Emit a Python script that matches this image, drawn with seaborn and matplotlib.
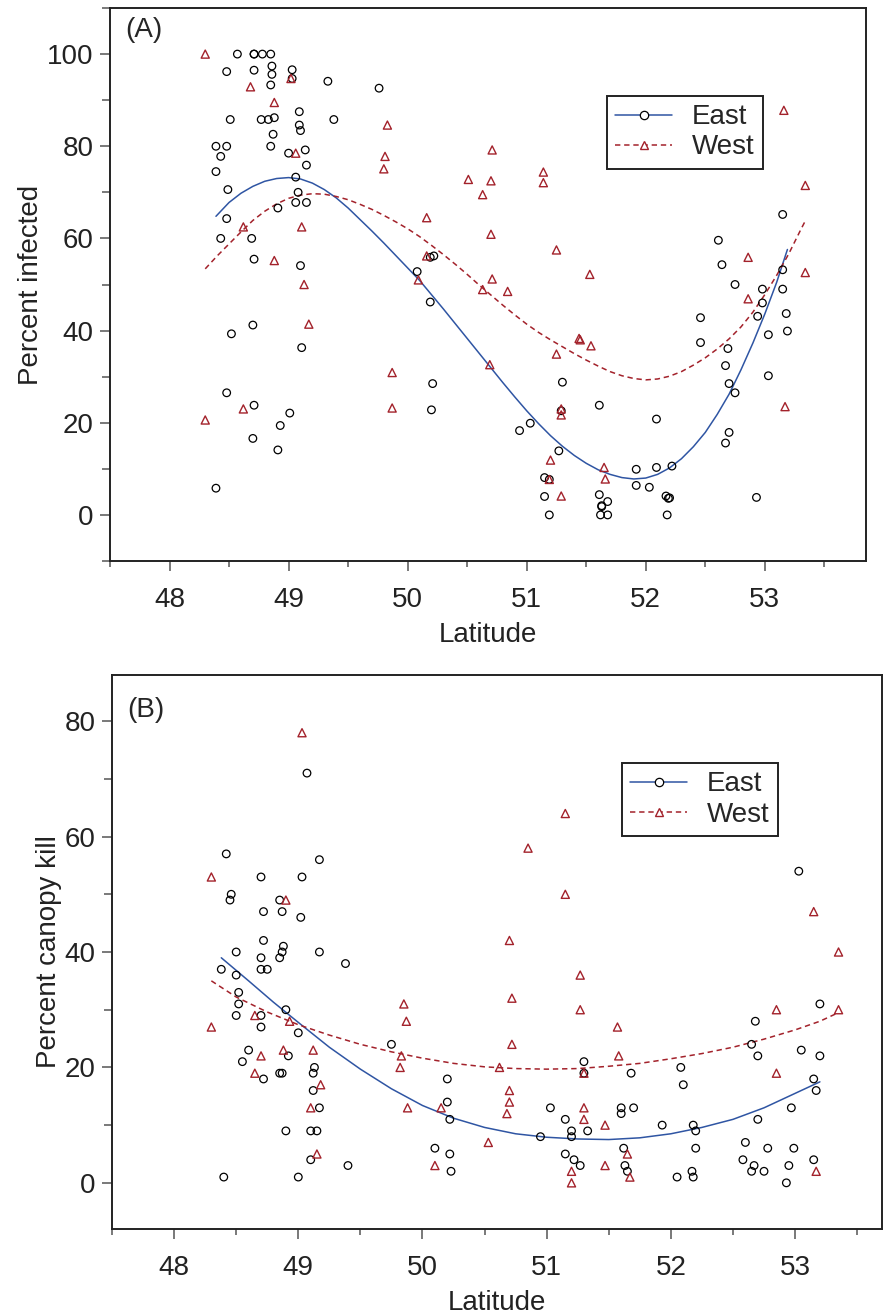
import numpy as np
import pandas as pd
import seaborn as sns
import matplotlib.pyplot as plt
from matplotlib.lines import Line2D
from matplotlib.ticker import MultipleLocator

# ---------------- Panel A: percent infected ----------------
east_a_lat = [48.57, 48.71, 48.71, 48.78, 48.85, 48.48, 48.71, 48.86, 48.86, 49.03,
              49.03, 48.85, 49.33, 49.76, 49.09, 48.51, 48.77, 48.83, 48.88, 49.09,
              49.10, 49.38, 48.87, 48.39, 48.48, 48.85, 48.43, 49.00, 49.14, 49.15,
              48.39, 49.06, 48.49, 49.08, 49.06, 49.15, 48.91, 48.48, 48.43, 48.69,
              48.71, 49.10, 48.70, 48.52, 49.11, 48.48, 48.71, 49.01, 48.93, 48.70,
              48.91, 48.39, 50.08, 50.19, 50.22, 50.19, 50.21, 50.20, 51.30, 51.61,
              51.03, 50.94, 51.27, 51.15, 51.19, 51.15, 51.19, 51.61, 51.63, 51.63,
              51.68, 51.62, 51.68, 53.15, 52.61, 52.64, 53.15, 52.75, 52.98, 53.15,
              52.98, 52.94, 53.18, 53.19, 53.03, 52.46, 52.46, 52.69, 52.67, 53.03,
              52.70, 52.75, 52.09, 52.70, 52.67, 51.92, 52.09, 52.22, 51.92, 52.03,
              52.17, 52.19, 52.20, 52.93, 52.18, 51.29]
east_a_pct = [100.0, 100.0, 100.0, 100.0, 100.0, 96.2, 96.5, 97.4, 95.6, 96.6,
              94.7, 93.3, 94.1, 92.6, 87.5, 85.8, 85.8, 85.8, 86.2, 84.6,
              83.4, 85.8, 82.6, 80.0, 80.0, 80.0, 77.8, 78.5, 79.2, 75.9,
              74.5, 73.3, 70.6, 70.0, 67.8, 67.8, 66.6, 64.3, 60.0, 60.0,
              55.5, 54.1, 41.2, 39.3, 36.3, 26.5, 23.8, 22.1, 19.4, 16.6,
              14.1, 5.8, 52.8, 55.9, 56.2, 46.2, 28.5, 22.8, 28.8, 23.8,
              19.9, 18.3, 13.9, 8.1, 7.7, 4.0, 0.0, 4.4, 2.0, 1.8,
              2.9, 0.0, 0.0, 65.2, 59.6, 54.3, 53.2, 50.0, 49.0, 49.0,
              46.0, 43.1, 43.7, 39.9, 39.1, 42.8, 37.4, 36.1, 32.4, 30.2,
              28.5, 26.5, 20.8, 17.9, 15.6, 9.9, 10.3, 10.6, 6.4, 6.0,
              4.1, 3.6, 3.7, 3.8, 0.0, 22.6]

west_a_lat = [48.30, 48.68, 48.88, 49.02, 49.06, 49.83, 49.81, 49.80, 48.62, 49.11,
              48.88, 49.13, 49.17, 48.30, 48.62, 49.87, 49.87, 50.71, 51.14, 51.14,
              50.51, 50.70, 50.63, 50.16, 50.70, 51.25, 50.16, 51.53, 50.09, 50.71,
              50.63, 50.84, 51.44, 51.45, 51.54, 51.25, 50.69, 51.29, 51.29, 51.20,
              51.65, 51.66, 51.19, 51.29, 53.16, 53.34, 52.86, 53.34, 52.86, 53.17]
west_a_pct = [100.0, 92.9, 89.5, 94.7, 78.5, 84.6, 77.8, 75.1, 62.5, 62.5,
              55.2, 50.0, 41.4, 20.6, 23.0, 30.9, 23.2, 79.2, 74.4, 72.1,
              72.8, 72.5, 69.5, 64.5, 60.9, 57.5, 56.2, 52.2, 51.0, 51.2,
              48.9, 48.5, 38.3, 38.0, 36.7, 34.9, 32.6, 23.0, 21.7, 11.9,
              10.3, 7.8, 7.7, 4.1, 87.8, 71.5, 55.9, 52.6, 46.9, 23.5]

# fitted curves
east_a_fit_lat = [48.39, 48.5, 48.6, 48.7, 48.8, 48.9, 49.0, 49.1, 49.2, 49.3,
                  49.4, 49.5, 49.6, 49.7, 49.8, 49.9, 50.0, 50.1, 50.2, 50.3,
                  50.4, 50.5, 50.6, 50.7, 50.8, 50.9, 51.0, 51.1, 51.2, 51.3,
                  51.4, 51.5, 51.6, 51.7, 51.8, 51.9, 52.0, 52.1, 52.2, 52.3,
                  52.4, 52.5, 52.6, 52.7, 52.8, 52.9, 53.0, 53.1, 53.19]
east_a_fit_pct = [64.8, 67.8, 69.8, 71.3, 72.4, 73.0, 73.2, 72.9, 72.0, 70.6,
                  68.8, 66.6, 64.1, 61.6, 59.0, 56.3, 53.6, 50.9, 47.8, 44.7,
                  41.5, 38.3, 35.1, 31.9, 28.7, 25.6, 22.6, 19.8, 17.2, 14.9,
                  12.9, 11.2, 9.8, 8.8, 8.1, 7.8, 8.0, 8.8, 10.2, 12.2,
                  14.8, 17.9, 21.8, 26.2, 31.5, 37.3, 43.6, 50.5, 57.6]
west_a_fit_lat = [48.3, 48.4, 48.5, 48.6, 48.7, 48.8, 48.9, 49.0, 49.1, 49.2,
                  49.3, 49.4, 49.5, 49.6, 49.7, 49.8, 49.9, 50.0, 50.1, 50.2,
                  50.3, 50.4, 50.5, 50.6, 50.7, 50.8, 50.9, 51.0, 51.1, 51.2,
                  51.3, 51.4, 51.5, 51.6, 51.7, 51.8, 51.9, 52.0, 52.1, 52.2,
                  52.3, 52.4, 52.5, 52.6, 52.7, 52.8, 52.9, 53.0, 53.1, 53.2,
                  53.3, 53.34]
west_a_fit_pct = [53.4, 56.2, 58.8, 61.4, 63.9, 65.9, 67.5, 68.7, 69.4, 69.7,
                  69.6, 69.1, 68.4, 67.4, 66.3, 65.0, 63.6, 62.1, 60.4, 58.5,
                  56.5, 54.4, 52.2, 49.9, 47.7, 45.5, 43.4, 41.4, 39.6, 38.0,
                  36.5, 35.0, 33.6, 32.3, 31.1, 30.2, 29.6, 29.3, 29.5, 30.1,
                  31.1, 32.5, 34.1, 36.0, 38.2, 40.8, 44.0, 47.8, 52.0, 56.6,
                  61.8, 63.8]

# ---------------- Panel B: percent canopy kill ----------------
east_b_lat = [48.38, 48.42, 48.45, 48.46, 48.50, 48.50, 48.52, 48.52, 48.50, 48.55,
              48.40, 48.60, 48.70, 48.72, 48.72, 48.70, 48.70, 48.75, 48.70, 48.70,
              48.72, 48.85, 48.87, 48.88, 48.87, 48.85, 48.85, 48.87, 48.90, 48.92,
              48.90, 49.00, 49.02, 49.03, 49.07, 49.10, 49.10, 49.12, 49.12, 49.13,
              49.15, 49.17, 49.17, 49.17, 49.00, 49.38, 49.40, 49.75, 50.10, 50.20,
              50.20, 50.22, 50.22, 50.23, 50.95, 51.03, 51.15, 51.15, 51.20, 51.20,
              51.22, 51.27, 51.30, 51.30, 51.33, 51.60, 51.60, 51.62, 51.63, 51.65,
              51.70, 51.68, 51.93, 52.05, 52.08, 52.10, 52.18, 52.20, 52.17, 52.18,
              52.20, 52.58, 52.60, 52.65, 52.68, 52.70, 52.70, 52.67, 52.65, 52.78,
              52.75, 52.93, 52.95, 52.97, 52.99, 53.03, 53.05, 53.15, 53.17, 53.20,
              53.20, 53.15]
east_b_pct = [37, 57, 49, 50, 40, 36, 33, 31, 29, 21,
              1, 23, 53, 47, 42, 39, 37, 37, 29, 27,
              18, 49, 47, 41, 40, 39, 19, 19, 30, 22,
              9, 26, 46, 53, 71, 9, 4, 16, 19, 20,
              9, 56, 40, 13, 1, 38, 3, 24, 6, 18,
              14, 11, 5, 2, 8, 13, 5, 11, 9, 8,
              4, 3, 21, 19, 9, 13, 12, 6, 3, 2,
              13, 19, 10, 1, 20, 17, 10, 9, 2, 1,
              6, 4, 7, 24, 28, 22, 11, 3, 2, 6,
              2, 0, 3, 13, 6, 54, 23, 18, 16, 31,
              22, 4]
west_b_lat = [48.30, 48.30, 48.65, 48.65, 48.70, 48.90, 48.93, 48.88, 49.03, 49.10,
              49.12, 49.15, 49.18, 49.85, 49.87, 49.88, 49.83, 49.82, 50.10, 50.15,
              50.53, 50.62, 50.68, 50.70, 50.72, 50.72, 50.70, 50.70, 50.85, 51.15,
              51.15, 51.20, 51.20, 51.27, 51.27, 51.30, 51.30, 51.30, 51.47, 51.47,
              51.57, 51.58, 51.65, 51.67, 52.85, 52.85, 53.15, 53.17, 53.35, 53.35]
west_b_pct = [53, 27, 29, 19, 22, 49, 28, 23, 78, 13,
              23, 5, 17, 31, 28, 13, 22, 20, 3, 13,
              7, 20, 12, 42, 32, 24, 16, 14, 58, 64,
              50, 2, 0, 36, 30, 13, 11, 19, 10, 3,
              27, 22, 5, 1, 30, 19, 47, 2, 40, 30]

east_b_fit_lat = [48.38, 48.6, 48.8, 49.0, 49.25, 49.5, 49.75, 50.0, 50.25, 50.5,
                  50.75, 51.0, 51.25, 51.5, 51.75, 52.0, 52.25, 52.5, 52.75, 53.0, 53.2]
east_b_fit_pct = [39.0, 35.0, 31.3, 27.8, 23.5, 19.7, 16.3, 13.4, 11.2, 9.6,
                  8.5, 7.9, 7.6, 7.5, 7.8, 8.5, 9.6, 11.0, 13.0, 15.5, 17.5]
west_b_fit_lat = [48.3, 48.5, 48.75, 49.0, 49.25, 49.5, 49.75, 50.0, 50.25, 50.5,
                  50.75, 51.0, 51.25, 51.5, 51.75, 52.0, 52.25, 52.5, 52.75, 53.0,
                  53.2, 53.35]
west_b_fit_pct = [35.0, 32.2, 29.6, 27.4, 25.6, 24.0, 22.7, 21.6, 20.7, 20.1,
                  19.8, 19.7, 19.8, 20.2, 20.7, 21.5, 22.4, 23.5, 24.9, 26.5,
                  28.0, 29.5]

EAST_LINE = "#2F55A3"
WEST_COL = "#A3222B"

sns.set_style("ticks")
plt.rcParams['font.family'] = ['Liberation Sans', 'DejaVu Sans']
plt.rcParams['axes.edgecolor'] = '#222222'
plt.rcParams['axes.linewidth'] = 1.4

W, H = 886, 1316
fig = plt.figure(figsize=(W / 100, H / 100), dpi=100)


def px_axes(left, top, right, bottom):
    return fig.add_axes([left / W, 1 - bottom / H, (right - left) / W, (bottom - top) / H])


def draw_panel(ax, e_lat, e_val, w_lat, w_val, ef_lat, ef_val, wf_lat, wf_val):
    sns.lineplot(x=ef_lat, y=ef_val, ax=ax, color=EAST_LINE, lw=1.1)
    sns.lineplot(x=wf_lat, y=wf_val, ax=ax, color=WEST_COL, lw=1.1, linestyle=(0, (3.5, 2.5)))
    sns.scatterplot(x=e_lat, y=e_val, ax=ax, marker="o", s=30, facecolor="none",
                    edgecolor="black", linewidth=0.9, zorder=3)
    sns.scatterplot(x=w_lat, y=w_val, ax=ax, marker="^", s=34, facecolor="none",
                    edgecolor=WEST_COL, linewidth=1.0, zorder=3)
    ax.set_xlim(47.5, 53.85)
    ax.xaxis.set_major_locator(MultipleLocator(1))
    ax.xaxis.set_minor_locator(MultipleLocator(0.5))
    ax.yaxis.set_major_locator(MultipleLocator(20))
    ax.yaxis.set_minor_locator(MultipleLocator(10))
    ax.tick_params(axis="both", which="major", labelsize=20, colors="#555555",
                   labelcolor="#222222", length=7, width=1.1)
    ax.tick_params(axis="x", which="major", pad=12)
    ax.tick_params(axis="x", which="minor", length=4, width=1.1, colors="#555555")
    ax.tick_params(axis="y", which="minor", length=6, width=1.1, colors="#555555")
    ax.tick_params(axis="y", which="major", pad=5)
    ax.set_xlabel("Latitude", fontsize=20, labelpad=6, color="#222222")
    handles = [
        Line2D([0], [0], color=EAST_LINE, lw=1.1, marker="o", ms=6,
               mfc="white", mec="black", mew=0.9),
        Line2D([0], [0], color=WEST_COL, lw=1.1, ls=(0, (3.5, 2.5)), marker="^", ms=6,
               mfc="white", mec=WEST_COL, mew=1.0),
    ]
    return handles


def add_legend(ax, handles, left, top):
    leg = ax.legend(handles, ["East", "West"], loc="upper left",
                    bbox_to_anchor=(left / W, 1 - top / H), bbox_transform=fig.transFigure,
                    borderaxespad=0, fontsize=20, frameon=True, fancybox=False,
                    framealpha=1, edgecolor="#222222", handlelength=2.05,
                    handletextpad=0.7, labelspacing=0.15, borderpad=0.3, numpoints=1)
    leg.get_frame().set_linewidth(1.4)


# Panel A
ax_a = px_axes(110, 8, 866, 561)
h = draw_panel(ax_a, east_a_lat, east_a_pct, west_a_lat, west_a_pct,
               east_a_fit_lat, east_a_fit_pct, west_a_fit_lat, west_a_fit_pct)
ax_a.set_ylim(-10, 110)
ax_a.set_ylabel("Percent infected", fontsize=20, labelpad=2, color="#222222")
ax_a.text(0.02, 0.96, "(A)", transform=ax_a.transAxes, fontsize=20, va="center", ha="left")
add_legend(ax_a, h, 607, 96)

# Panel B
ax_b = px_axes(112, 675, 882, 1229)
h = draw_panel(ax_b, east_b_lat, east_b_pct, west_b_lat, west_b_pct,
               east_b_fit_lat, east_b_fit_pct, west_b_fit_lat, west_b_fit_pct)
ax_b.set_xlim(47.5, 53.7)
ax_b.set_ylim(-8, 88)
ax_b.set_ylabel("Percent canopy kill", fontsize=20, labelpad=2, color="#222222")
ax_b.text(0.02, 0.937, "(B)", transform=ax_b.transAxes, fontsize=20, va="center", ha="left")
add_legend(ax_b, h, 622, 763)

fig.savefig("out.png", dpi=100)
